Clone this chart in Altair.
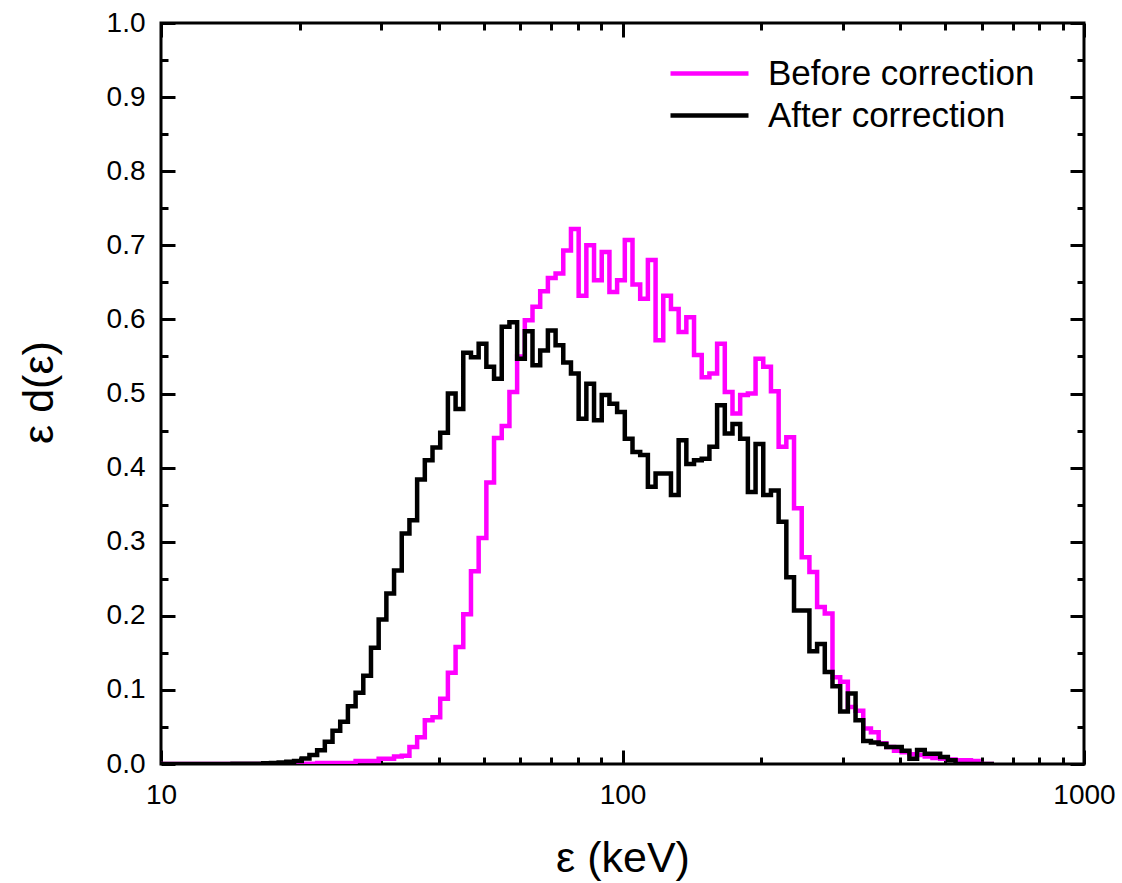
import altair as alt
import numpy as np
import pandas as pd

# Histogram binning: logarithmic bins, 60 per decade
BINS_PER_DECADE = 60
FIRST_EDGE_LOG10 = 0.98833  # log10 of the lower edge of the first bin (keV)

# Bin heights, eps*d(eps)
before_correction = [
    0, 0, 0, 0, 0, 0, 0, 0, 0, 0,
    0, 0, 0, 0, 0, 0, 0, 0.0005, 0.0005, 0.0005,
    0.0005, 0.0015, 0.0015, 0.0015, 0.0015, 0.0015, 0.004, 0.004, 0.004, 0.007,
    0.007, 0.010, 0.011, 0.023, 0.036, 0.059, 0.063, 0.088, 0.123, 0.158,
    0.202, 0.260, 0.305, 0.380, 0.440, 0.456, 0.502, 0.550, 0.599, 0.617,
    0.638, 0.656, 0.662, 0.693, 0.722, 0.632, 0.700, 0.653, 0.691, 0.637,
    0.653, 0.707, 0.647, 0.628, 0.680, 0.572, 0.632, 0.614, 0.583, 0.603,
    0.552, 0.522, 0.527, 0.567, 0.502, 0.473, 0.498, 0.500, 0.547, 0.536,
    0.503, 0.428, 0.441, 0.345, 0.279, 0.259, 0.212, 0.203, 0.117, 0.111,
    0.077, 0.072, 0.048, 0.043, 0.028, 0.023, 0.018, 0.016, 0.013, 0.012,
    0.010, 0.008, 0.007, 0.006, 0.005, 0.005, 0.004, 0, 0,
]

after_correction = [
    0, 0, 0, 0, 0, 0, 0, 0, 0, 0,
    0.0005, 0.0005, 0.0005, 0.0005, 0.001, 0.0015, 0.002, 0.003, 0.004, 0.0075,
    0.012, 0.0185, 0.030, 0.045, 0.057, 0.078, 0.096, 0.119, 0.157, 0.195,
    0.230, 0.261, 0.311, 0.329, 0.384, 0.410, 0.427, 0.447, 0.500, 0.479,
    0.555, 0.549, 0.567, 0.536, 0.520, 0.590, 0.596, 0.547, 0.584, 0.538,
    0.558, 0.585, 0.565, 0.542, 0.527, 0.466, 0.513, 0.464, 0.498, 0.486,
    0.475, 0.439, 0.421, 0.417, 0.374, 0.392, 0.392, 0.363, 0.437, 0.405,
    0.410, 0.412, 0.428, 0.484, 0.446, 0.459, 0.439, 0.367, 0.432, 0.363,
    0.369, 0.327, 0.252, 0.207, 0.207, 0.152, 0.162, 0.124, 0.105, 0.071,
    0.095, 0.059, 0.031, 0.029, 0.027, 0.023, 0.023, 0.018, 0.007, 0.019,
    0.014, 0.014, 0.0095, 0.005, 0, 0, 0, 0, 0,
]

series_names = ["Before correction", "After correction"]
series_colors = ["#ff00ff", "#000000"]

x_major_ticks = [10, 100, 1000]
x_minor_ticks = [20, 30, 40, 50, 60, 70, 80, 90, 200, 300, 400, 500, 600, 700, 800, 900]
y_ticks = [0.0, 0.05, 0.1, 0.15, 0.2, 0.25, 0.3, 0.35, 0.4, 0.45, 0.5,
           0.55, 0.6, 0.65, 0.7, 0.75, 0.8, 0.85, 0.9, 0.95, 1.0]

FONT = "Liberation Sans"
W, H = 923, 741


def step_frame(values, name):
    edges = 10 ** (FIRST_EDGE_LOG10 + np.arange(len(values) + 1) / BINS_PER_DECADE)
    return pd.DataFrame({
        "energy": edges,
        "value": list(values) + [values[-1]],
        "series": name,
    })


X_MAJOR = "datum.value == 10 || datum.value == 100 || datum.value == 1000"
Y_MAJOR = "abs(datum.value * 10 - round(datum.value * 10)) < 0.001"


def inward_ticks(test):
    # negative length draws the ticks into the plot area
    return {"condition": {"test": test, "value": -14}, "value": -7}


x_scale = alt.Scale(type="log", domain=[10, 1000], nice=False)
y_scale = alt.Scale(domain=[0, 1], nice=False, zero=False)

common_axis = dict(
    tickColor="black", tickWidth=3, domain=False, grid=False,
    labelFont=FONT, labelColor="black", labelFlush=False, labelOverlap=False,
)

x_bottom = alt.Axis(
    orient="bottom", values=x_major_ticks + x_minor_ticks,
    labelExpr=f"({X_MAJOR}) ? format(datum.value, 'd') : ''",
    tickSize=inward_ticks(X_MAJOR), labelFontSize=28, labelPadding=31,
    title="ε (keV)", titleFont=FONT, titleFontSize=43, titleFontWeight="normal",
    titleColor="black", titleX=W / 2, titleY=94, titleAlign="center",
    titleBaseline="middle", **common_axis,
)
y_left = alt.Axis(
    orient="left", values=y_ticks,
    labelExpr=f"({Y_MAJOR}) ? format(datum.value, '.1f') : ''",
    tickSize=inward_ticks(Y_MAJOR), labelFontSize=28, labelPadding=30,
    title="ε d(ε)", titleFont=FONT, titleFontSize=43, titleFontWeight="normal",
    titleColor="black", titleX=-122, titleY=369, titleAngle=270,
    titleAlign="center", titleBaseline="middle", **common_axis,
)
x_top = alt.Axis(orient="top", values=x_major_ticks + x_minor_ticks, labels=False,
                 title=None, tickSize=inward_ticks(X_MAJOR), **common_axis)
y_right = alt.Axis(orient="right", values=y_ticks, labels=False, title=None,
                   tickSize=inward_ticks(Y_MAJOR), **common_axis)


def legend_for(y_pos):
    return alt.Legend(
        orient="none", legendX=507, legendY=y_pos, title=None, padding=0,
        symbolType="stroke", symbolSize=78 * 78, symbolStrokeWidth=4.5,
        labelFont=FONT, labelFontSize=35, labelColor="black", labelOffset=17,
        labelLimit=600,
    )


def series_layer(values, name, color, x_axis, y_axis, legend_y):
    return alt.Chart(step_frame(values, name)).mark_line(
        interpolate="step-after", strokeWidth=4.5, clip=True, strokeJoin="miter"
    ).encode(
        x=alt.X("energy:Q", scale=x_scale, axis=x_axis),
        y=alt.Y("value:Q", scale=y_scale, axis=y_axis),
        color=alt.Color("series:N",
                        scale=alt.Scale(domain=[name], range=[color]),
                        legend=legend_for(legend_y)),
    )


before_layer = series_layer(before_correction, series_names[0], series_colors[0],
                            x_bottom, y_left, 9)
after_layer = series_layer(after_correction, series_names[1], series_colors[1],
                           x_top, y_right, 51)

chart = alt.layer(before_layer, after_layer).resolve_scale(
    color="independent"
).resolve_axis(
    x="independent", y="independent"
).properties(
    width=W, height=H,
    padding={"left": 161, "top": 23, "right": 38, "bottom": 119},
    autosize=alt.AutoSizeParams(type="none"),
    background="white",
).configure_view(
    stroke="black", strokeWidth=3
)

chart.save("out.html", embed_options={"renderer": "svg", "actions": False})
